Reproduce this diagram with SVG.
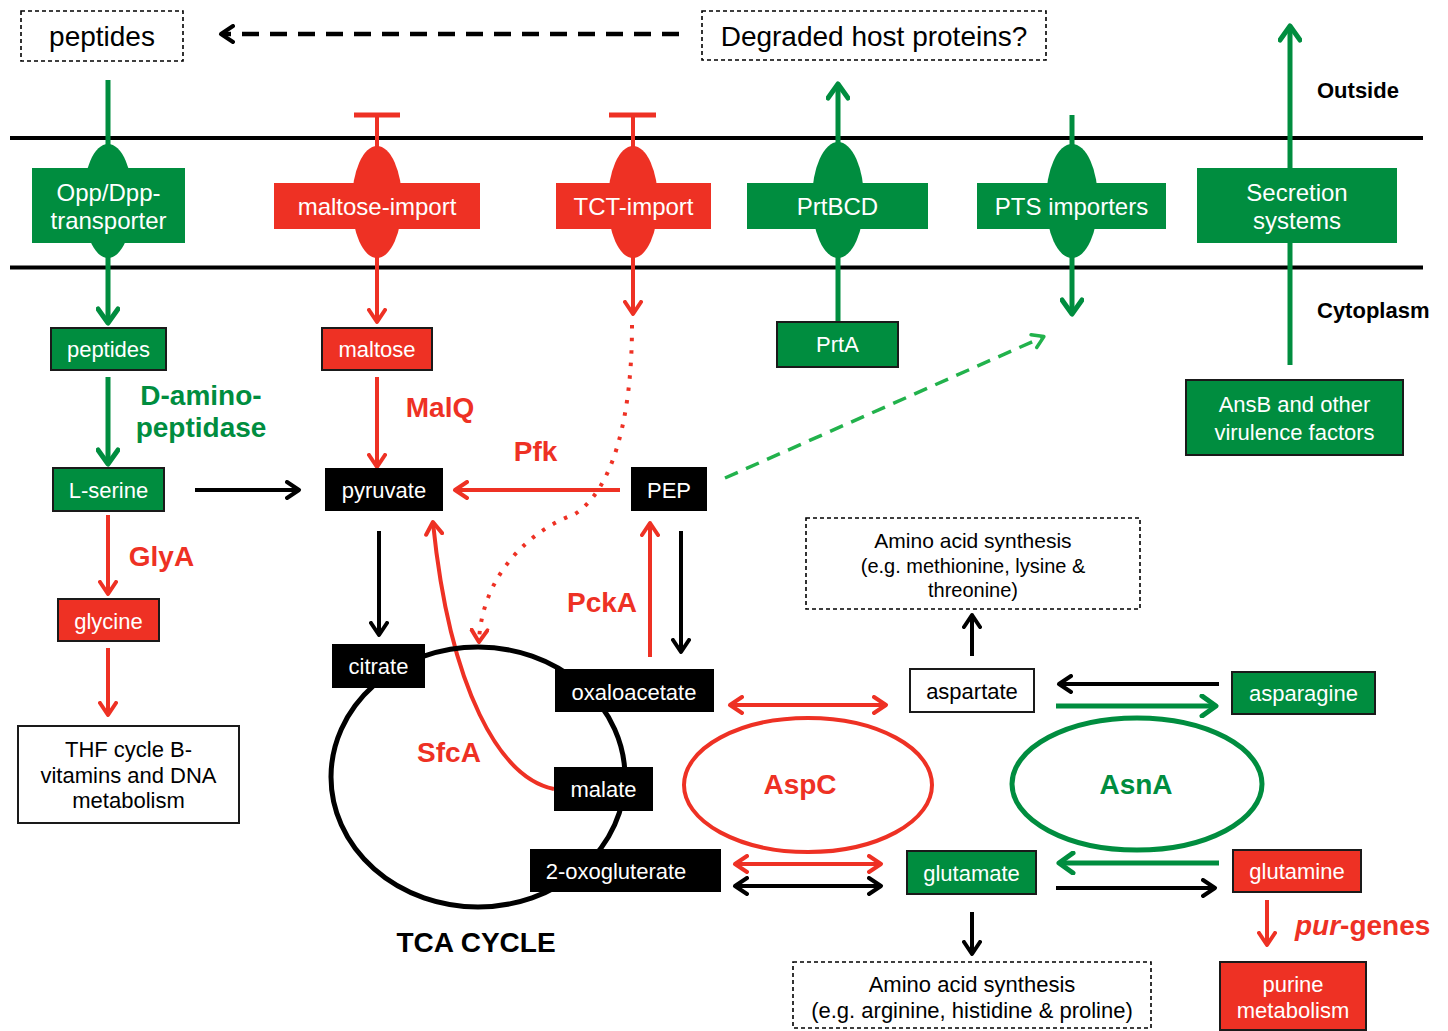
<svg xmlns="http://www.w3.org/2000/svg" width="1448" height="1031" viewBox="0 0 1448 1031">
<defs>
<style>
text{font-family:"Liberation Sans",Arial,sans-serif;text-anchor:middle}
.w{fill:#fff;font-size:22px}
.wm{fill:#fff;font-size:24px}
.k{fill:#000;font-size:22px}
.top{fill:#000;font-size:28px}
.lb{font-weight:bold;font-size:28px}
.gt{fill:#008D3F}
.rt{fill:#EE3124}
.gf{fill:#008D3F}
.rf{fill:#EE3124}
.kf{fill:#000}
.bx{stroke:#1a1a1a;stroke-width:2}
.dash{fill:#fff;stroke:#000;stroke-width:1.6;stroke-dasharray:4 3}
.mem{stroke:#000;stroke-width:4}
.cg{stroke:#008D3F;stroke-width:5;fill:none}
.cr{stroke:#EE3124;stroke-width:4;fill:none}
.ck{stroke:#000;stroke-width:4;fill:none}
</style>
<marker id="ag" viewBox="0 0 24 24" refX="15" refY="12" markerWidth="24" markerHeight="24" markerUnits="userSpaceOnUse" orient="auto-start-reverse">
<path d="M3,2 L17,12 L3,22" fill="none" stroke="#008D3F" stroke-width="5" stroke-linecap="round" stroke-linejoin="round"/>
</marker>
<marker id="ar" viewBox="0 0 20 20" refX="13" refY="10" markerWidth="20" markerHeight="20" markerUnits="userSpaceOnUse" orient="auto-start-reverse">
<path d="M2,2 L14,10 L2,18" fill="none" stroke="#EE3124" stroke-width="4" stroke-linecap="round" stroke-linejoin="round"/>
</marker>
<marker id="ak" viewBox="0 0 20 20" refX="13" refY="10" markerWidth="20" markerHeight="20" markerUnits="userSpaceOnUse" orient="auto-start-reverse">
<path d="M2,2 L14,10 L2,18" fill="none" stroke="#000" stroke-width="4" stroke-linecap="round" stroke-linejoin="round"/>
</marker>
<marker id="al" viewBox="0 0 20 20" refX="13" refY="10" markerWidth="20" markerHeight="20" markerUnits="userSpaceOnUse" orient="auto">
<path d="M3,3 L14,10 L3,17" fill="none" stroke="#22B24C" stroke-width="3.5" stroke-linecap="round" stroke-linejoin="round"/>
</marker>
</defs>
<rect width="1448" height="1031" fill="#fff"/>

<g id="membrane">
<line x1="10" y1="138" x2="1423" y2="138" class="mem"/>
<line x1="10" y1="267.5" x2="1423" y2="267.5" class="mem"/>
</g>

<g id="connectors">
<line x1="679" y1="34" x2="222" y2="34" stroke="#000" stroke-width="4.5" stroke-dasharray="17 11" marker-end="url(#ak)"/>
<path d="M108,80 V321" class="cg" marker-end="url(#ag)"/>
<line x1="354" y1="115" x2="400" y2="115" stroke="#EE3124" stroke-width="5"/>
<path d="M377,115 V321" class="cr" stroke-width="5" marker-end="url(#ar)"/>
<line x1="609" y1="115" x2="656" y2="115" stroke="#EE3124" stroke-width="5"/>
<path d="M633,115 V313" class="cr" stroke-width="5" marker-end="url(#ar)"/>
<path d="M838,322 V86" class="cg" marker-end="url(#ag)"/>
<path d="M1072,115 V312" class="cg" marker-end="url(#ag)"/>
<path d="M1290,365 V28" class="cg" marker-end="url(#ag)"/>
<path d="M108,377 V462" class="cg" marker-end="url(#ag)"/>
<path d="M377,377 V466" class="cr" marker-end="url(#ar)"/>
<path d="M195,490 H298" class="ck" marker-end="url(#ak)"/>
<path d="M620,490 H456" class="cr" marker-end="url(#ar)"/>
<path d="M725,478 L1043,337" stroke="#22B24C" stroke-width="3.5" fill="none" stroke-dasharray="14 9" marker-end="url(#al)"/>
<path d="M632,325 C632,420 612,490 575,514 C530,530 482,575 479,641" stroke="#EE3124" stroke-width="4" fill="none" stroke-dasharray="3.5 9" marker-end="url(#ar)"/>
<path d="M379,531 V634" class="ck" stroke-width="3.5" marker-end="url(#ak)"/>
<path d="M108,515 V593" class="cr" marker-end="url(#ar)"/>
<path d="M108,648 V714" class="cr" marker-end="url(#ar)"/>
<path d="M650,657 V524" class="cr" marker-end="url(#ar)"/>
<path d="M681,531 V651" class="ck" stroke-width="3.5" marker-end="url(#ak)"/>
<path d="M554,789 C500,778 450,690 433,523" class="cr" stroke-width="3.5" marker-end="url(#ar)"/>
<path d="M731,705 H885" class="cr" marker-start="url(#ar)" marker-end="url(#ar)"/>
<path d="M736,864 H880" class="cr" marker-start="url(#ar)" marker-end="url(#ar)"/>
<path d="M736,886 H880" class="ck" marker-start="url(#ak)" marker-end="url(#ak)"/>
<path d="M1219,684 H1060" class="ck" marker-end="url(#ak)"/>
<path d="M1056,706 H1214" class="cg" marker-end="url(#ag)"/>
<path d="M1219,863 H1061" class="cg" marker-end="url(#ag)"/>
<path d="M1056,888 H1214" class="ck" marker-end="url(#ak)"/>
<path d="M1267,900 V944" class="cr" marker-end="url(#ar)"/>
<path d="M972,912 V953" class="ck" marker-end="url(#ak)"/>
<path d="M972,656 V616" class="ck" marker-end="url(#ak)"/>
</g>

<g id="peptides-top"><rect x="21" y="11" width="162" height="50" class="dash"/><text x="102" y="46" class="top">peptides</text></g>
<g id="degraded"><rect x="702" y="11" width="344" height="49" class="dash"/><text x="874" y="46" class="top">Degraded host proteins?</text></g>

<g id="opp"><ellipse cx="108" cy="201" rx="25" ry="57" class="gf"/><rect x="32" y="168" width="153" height="75" class="gf"/><text x="108.5" y="201" class="wm">Opp/Dpp-</text><text x="108.5" y="229" class="wm">transporter</text></g>
<g id="maltose-import"><ellipse cx="377" cy="202" rx="25" ry="56" class="rf"/><rect x="274" y="183" width="206" height="46" class="rf"/><text x="377" y="215" class="wm">maltose-import</text></g>
<g id="tct-import"><ellipse cx="633" cy="202" rx="25" ry="56" class="rf"/><rect x="556" y="183" width="155" height="46" class="rf"/><text x="633.5" y="215" class="wm">TCT-import</text></g>
<g id="prtbcd"><ellipse cx="838" cy="200" rx="26" ry="58" class="gf"/><rect x="747" y="183" width="181" height="46" class="gf"/><text x="837.5" y="215" class="wm">PrtBCD</text></g>
<g id="pts"><ellipse cx="1072" cy="201" rx="26" ry="57" class="gf"/><rect x="977" y="183" width="189" height="46" class="gf"/><text x="1071.5" y="215" class="wm">PTS importers</text></g>
<g id="secretion"><rect x="1197" y="168" width="200" height="75" class="gf"/><text x="1297" y="201" class="wm">Secretion</text><text x="1297" y="229" class="wm">systems</text></g>

<g id="outside"><text x="1317" y="98" class="lb" style="font-size:22px;text-anchor:start">Outside</text></g>
<g id="cytoplasm"><text x="1317" y="318" class="lb" style="font-size:22px;text-anchor:start">Cytoplasm</text></g>

<g id="peptides"><rect x="51" y="328" width="115" height="42" class="gf bx"/><text x="108.5" y="357" class="w">peptides</text></g>
<g id="maltose"><rect x="322" y="328" width="110" height="42" class="rf bx"/><text x="377" y="357" class="w">maltose</text></g>
<g id="prta"><rect x="777" y="322" width="121" height="45" class="gf bx"/><text x="837.5" y="352" class="w">PrtA</text></g>
<g id="ansb"><rect x="1186" y="380" width="217" height="75" class="gf bx"/><text x="1294.5" y="412" class="w">AnsB and other</text><text x="1294.5" y="440" class="w">virulence factors</text></g>
<g id="lserine"><rect x="53" y="468" width="111" height="43" class="gf bx"/><text x="108.5" y="498" class="w">L-serine</text></g>
<g id="pyruvate"><rect x="325" y="468" width="118" height="43" class="kf"/><text x="384" y="498" class="w">pyruvate</text></g>
<g id="pep"><rect x="631" y="467" width="76" height="44" class="kf"/><text x="669" y="498" class="w">PEP</text></g>
<g id="glycine"><rect x="58" y="599" width="101" height="42" class="rf bx"/><text x="108.5" y="629" class="w">glycine</text></g>
<g id="thf"><rect x="18" y="726" width="221" height="97" fill="#fff" class="bx"/><text x="128.5" y="757" class="k">THF cycle B-</text><text x="128.5" y="783" class="k">vitamins and DNA</text><text x="128.5" y="808" class="k">metabolism</text></g>
<g id="aa-synth-1"><rect x="806" y="518" width="334" height="91" class="dash"/><text x="973" y="548" class="k" style="font-size:21px">Amino acid synthesis</text><text x="973" y="573" class="k" style="font-size:20px">(e.g. methionine, lysine &amp;</text><text x="973" y="597" class="k" style="font-size:20px">threonine)</text></g>

<g id="tca-cycle"><ellipse cx="478" cy="777" rx="147" ry="130" fill="none" stroke="#000" stroke-width="5"/><text x="476" y="952" class="lb">TCA CYCLE</text></g>
<g id="citrate"><rect x="332" y="644" width="93" height="44" class="kf"/><text x="378.5" y="674" class="w">citrate</text></g>
<g id="oxaloacetate"><rect x="555" y="669" width="159" height="43" class="kf"/><text x="634" y="700" class="w">oxaloacetate</text></g>
<g id="malate"><rect x="554" y="767" width="99" height="44" class="kf"/><text x="603.5" y="797" class="w">malate</text></g>
<g id="oxogluterate"><rect x="530" y="849" width="191" height="43" class="kf"/><text x="616" y="879" class="w">2-oxogluterate</text></g>
<g id="aspartate"><rect x="910" y="669" width="124" height="43" fill="#fff" class="bx"/><text x="972" y="699" class="k">aspartate</text></g>
<g id="asparagine"><rect x="1232" y="672" width="143" height="42" class="gf bx"/><text x="1303.5" y="701" class="w">asparagine</text></g>
<g id="glutamate"><rect x="907" y="851" width="129" height="43" class="gf bx"/><text x="971.5" y="881" class="w">glutamate</text></g>
<g id="glutamine"><rect x="1233" y="850" width="128" height="42" class="rf bx"/><text x="1297" y="879" class="w">glutamine</text></g>
<g id="purine"><rect x="1220" y="962" width="146" height="68" class="rf bx"/><text x="1293" y="992" class="w">purine</text><text x="1293" y="1018" class="w">metabolism</text></g>
<g id="aa-synth-2"><rect x="793" y="962" width="358" height="66" class="dash"/><text x="972" y="992" class="k">Amino acid synthesis</text><text x="972" y="1018" class="k">(e.g. arginine, histidine &amp; proline)</text></g>

<g id="aspc"><ellipse cx="808" cy="785" rx="124" ry="67" fill="none" stroke="#EE3124" stroke-width="4"/><text x="800" y="794" class="lb rt">AspC</text></g>
<g id="asna"><ellipse cx="1137" cy="784" rx="125" ry="66" fill="none" stroke="#008D3F" stroke-width="5"/><text x="1136" y="794" class="lb gt">AsnA</text></g>

<g id="labels">
<text x="201" y="405" class="lb gt">D-amino-</text>
<text x="201" y="437" class="lb gt">peptidase</text>
<text x="440" y="417" class="lb rt">MalQ</text>
<text x="535.5" y="461" class="lb rt">Pfk</text>
<text x="161.5" y="566" class="lb rt">GlyA</text>
<text x="602" y="612" class="lb rt">PckA</text>
<text x="449" y="762" class="lb rt">SfcA</text>
<text x="1295" y="935" class="lb rt" style="text-anchor:start"><tspan font-style="italic">pur</tspan>-genes</text>
</g>
</svg>
